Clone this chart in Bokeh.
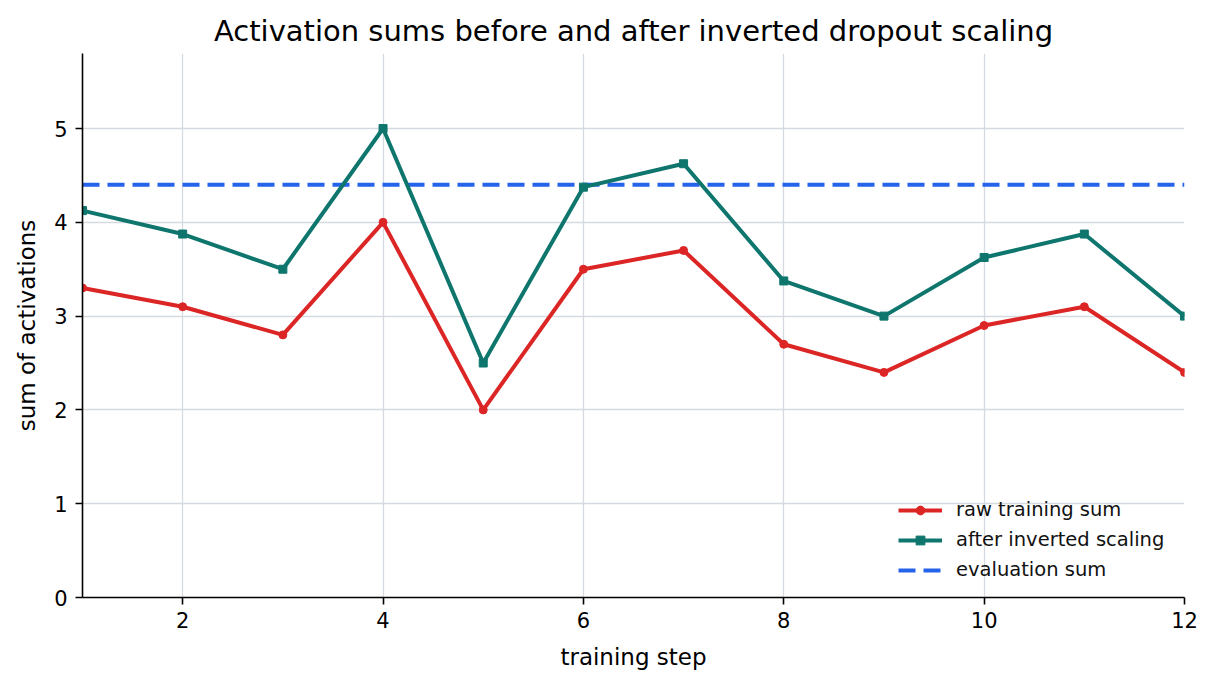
from bokeh.plotting import figure
from bokeh.models import Range1d, FixedTicker, Legend, LegendItem
from bokeh.embed import file_html
from bokeh.resources import INLINE

steps = [1, 2, 3, 4, 5, 6, 7, 8, 9, 10, 11, 12]
raw_sum = [3.3, 3.1, 2.8, 4.0, 2.0, 3.5, 3.7, 2.7, 2.4, 2.9, 3.1, 2.4]
scaled_sum = [4.125, 3.875, 3.5, 5.0, 2.5, 4.375, 4.625, 3.375, 3.0, 3.625, 3.875, 3.0]
eval_sum = 4.4
x_ticks = [2, 4, 6, 8, 10, 12]
y_ticks = [0, 1, 2, 3, 4, 5]

FONT = "DejaVu Sans"
RED = "#dc2626"
GREEN = "#0f766e"
BLUE = "#2563eb"

p = figure(width=1215, height=688, output_backend="svg", toolbar_location=None,
           x_range=Range1d(1, 12), y_range=Range1d(0, 5.8),
           min_border_left=82, min_border_right=31, min_border_top=53, min_border_bottom=91)

p.title.text = "Activation sums before and after inverted dropout scaling"
p.title.align = "center"
p.title.text_font = FONT
p.title.text_font_size = "29px"
p.title.text_font_style = "normal"
p.title.text_color = "#000000"
p.title.standoff = 11

p.outline_line_color = None
p.background_fill_color = "white"

for ax in (p.xaxis[0], p.yaxis[0]):
    ax.major_label_text_font = FONT
    ax.major_label_text_font_size = "21px"
    ax.major_label_text_color = "#000000"
    ax.axis_label_text_font = FONT
    ax.axis_label_text_font_size = "23px"
    ax.axis_label_text_font_style = "normal"
    ax.axis_label_text_color = "#000000"
    ax.axis_line_color = "#000000"
    ax.axis_line_width = 1.6
    ax.major_tick_line_color = "#000000"
    ax.major_tick_line_width = 1.6
    ax.major_tick_in = 0
    ax.major_tick_out = 7
    ax.minor_tick_line_color = None

p.xaxis[0].major_label_standoff = 7
p.xaxis[0].axis_label_standoff = 13
p.yaxis[0].major_label_standoff = 8
p.yaxis[0].axis_label_standoff = 11

p.xaxis[0].ticker = FixedTicker(ticks=x_ticks)
p.yaxis[0].ticker = FixedTicker(ticks=y_ticks)
p.xaxis[0].axis_label = "training step"
p.yaxis[0].axis_label = "sum of activations"

p.xgrid[0].ticker = FixedTicker(ticks=x_ticks)
p.ygrid[0].ticker = FixedTicker(ticks=y_ticks)
p.grid.grid_line_color = "#d5d9e0"
p.grid.grid_line_width = 1.3

r3 = p.line([steps[0], steps[-1]], [eval_sum, eval_sum], line_color=BLUE, line_width=4, line_dash="17 8")
r1 = p.line(steps, raw_sum, line_color=RED, line_width=4)
r1m = p.scatter(steps, raw_sum, marker="circle", size=8, fill_color=RED, line_color=RED)
r2 = p.line(steps, scaled_sum, line_color=GREEN, line_width=4)
r2m = p.scatter(steps, scaled_sum, marker="square", size=8, fill_color=GREEN, line_color=GREEN)

legend = Legend(items=[
    LegendItem(label="raw training sum", renderers=[r1, r1m]),
    LegendItem(label="after inverted scaling", renderers=[r2, r2m]),
    LegendItem(label="evaluation sum", renderers=[r3]),
], location=(816, 16))
legend.label_text_font = FONT
legend.label_text_font_size = "19.5px"
legend.label_text_color = "#111111"
legend.border_line_color = None
legend.background_fill_alpha = 0
legend.glyph_width = 44
legend.glyph_height = 22
legend.label_height = 22
legend.label_standoff = 14
legend.spacing = 7
legend.padding = 5
legend.margin = 0
p.add_layout(legend, "center")

open("out.html", "w").write(file_html(p, INLINE))
